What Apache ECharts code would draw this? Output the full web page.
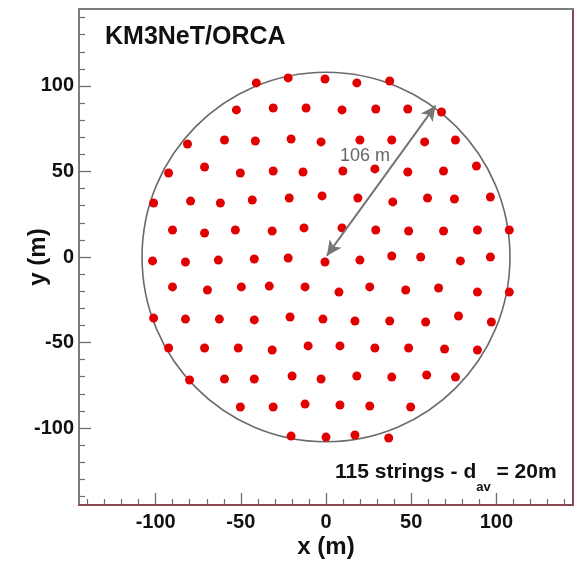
<!DOCTYPE html>
<html><head><meta charset="utf-8">
<script src="https://cdn.jsdelivr.net/npm/echarts@6/dist/echarts.min.js"></script>
<style>html,body{margin:0;padding:0;background:#fff}#c{width:579px;height:561px}</style>
</head><body><div id="c"></div>
<script>
// ---- data ----
const stringX = [
  -40.9, -22.2, -0.6, 18.1, 37.4,
  -52.6, -31.0, -11.7, 9.4, 29.2, 48.0, 67.8,
  -81.3, -59.6, -41.5, -20.5, -2.9, 19.9, 38.6, 57.9, 76.0,
  -92.4, -71.3, -50.3, -31.0, -13.5, 9.9, 28.7, 48.0, 69.0, 88.3,
  -101.2, -79.5, -62.0, -43.3, -21.6, -2.3, 18.7, 39.2, 59.6, 75.4, 96.5,
  -90.1, -71.3, -53.2, -31.6, -12.9, 9.4, 29.2, 48.5, 69.0, 88.9, 107.6,
  -101.8, -82.5, -63.2, -42.1, -22.2, -0.6, 19.9, 38.6, 55.6, 78.9, 96.5,
  -90.1, -69.6, -49.7, -33.3, -12.3, 7.6, 25.7, 46.8, 66.1, 88.9, 107.6,
  -101.2, -82.5, -62.6, -42.1, -21.1, -1.8, 17.0, 37.4, 58.5, 77.8, 97.1,
  -92.4, -71.3, -51.5, -31.6, -10.5, 8.2, 28.7, 48.5, 69.6, 88.9,
  -80.1, -59.6, -42.1, -19.9, -2.9, 18.1, 38.6, 59.1, 76.0,
  -50.3, -31.0, -12.3, 8.2, 25.7, 49.7,
  -20.5, 0, 17.0, 36.8
];
const stringY = [
  101.8, 104.7, 104.1, 101.8, 102.9,
  86.0, 87.1, 87.1, 86.0, 86.5, 86.5, 84.8,
  66.1, 68.4, 67.8, 69.0, 67.3, 68.4, 68.4, 67.3, 68.4,
  49.1, 52.6, 49.1, 50.3, 49.7, 50.3, 51.5, 49.7, 50.3, 53.2,
  31.6, 32.7, 31.6, 33.3, 34.5, 35.7, 34.5, 32.2, 34.5, 33.9, 35.1,
  15.8, 14.0, 15.8, 15.2, 17.0, 17.0, 15.8, 15.2, 15.2, 15.8, 15.8,
  -2.3, -2.9, -1.8, -1.2, -0.6, -2.9, -1.8, 0.6, 0, -2.3, 0,
  -17.5, -19.3, -17.5, -17.0, -17.5, -20.5, -17.5, -19.3, -18.1, -20.5, -20.5,
  -35.7, -36.3, -36.3, -36.8, -35.1, -36.3, -37.4, -37.4, -38.0, -34.5, -38.0,
  -53.2, -53.2, -53.2, -54.4, -52.0, -52.0, -53.2, -53.2, -53.8, -54.4,
  -71.9, -71.3, -71.3, -69.6, -71.3, -69.6, -70.2, -69.0, -70.2,
  -87.7, -87.7, -86.0, -86.5, -87.1, -87.7,
  -104.7, -105.3, -104.1, -105.8
];
const axisMin = -145, axisMax = 145;
const majorTicks = [-100, -50, 0, 50, 100];
const minorTicks = [-140, -130, -120, -110, -90, -80, -70, -60, -40, -30, -20, -10,
                    10, 20, 30, 40, 60, 70, 80, 90, 110, 120, 130, 140];
const circleCenter = [0, 0];
const circleRadius = 108;
const arrowStart = [0.5, 0.8];
const arrowEnd = [64.3, 88.5];
const titleText = 'KM3NeT/ORCA';
const radiusText = '106 m';
const xName = 'x (m)', yName = 'y (m)';

// ---- styles ----
const FONT = '"Liberation Sans", Arial, Helvetica, sans-serif';
const GRAY = '#7d7d7d', MAROON = '#8c4552', TICK = '#6e6e6e';
const labelStyle = {fontFamily: FONT, fontWeight: 'bold', fontSize: 20, color: '#111'};

const points = stringX.map((x, i) => [x, stringY[i]]);

function majorAxis(pos, isX) {
  return {
    type: 'value', position: pos, min: axisMin, max: axisMax,
    axisLine: {show: true, onZero: false, lineStyle: {color: isX ? MAROON : GRAY, width: 2}},
    axisTick: {show: true, inside: true, length: 12, customValues: majorTicks, lineStyle: {color: TICK, width: 1.3}},
    axisLabel: Object.assign({show: true, customValues: majorTicks, margin: isX ? 7 : 5}, labelStyle),
    splitLine: {show: false},
    name: isX ? xName : yName, nameLocation: 'middle', nameGap: isX ? 30 : 29,
    nameMoveOverlap: false,
    nameTextStyle: {fontFamily: FONT, fontWeight: 'bold', fontSize: 24, color: '#111'}
  };
}
function minorAxis(pos) {
  return {
    type: 'value', position: pos, min: axisMin, max: axisMax,
    axisLine: {show: false, onZero: false},
    axisTick: {show: true, inside: true, length: 6, customValues: minorTicks, lineStyle: {color: TICK, width: 1.2}},
    axisLabel: {show: false}, splitLine: {show: false}
  };
}
function frameAxis(pos, color) {
  return {
    type: 'value', position: pos, min: axisMin, max: axisMax,
    axisLine: {show: true, onZero: false, lineStyle: {color: color, width: 2}},
    axisTick: {show: false}, axisLabel: {show: false}, splitLine: {show: false}
  };
}

const chart = echarts.init(document.getElementById('c'), null, {renderer: 'canvas'});
chart.setOption({
  animation: false,
  backgroundColor: '#fff',
  grid: {left: 79, right: 6, top: 9, bottom: 56, containLabel: false, outerBoundsMode: 'none'},
  xAxis: [majorAxis('bottom', true), minorAxis('bottom'), frameAxis('top', GRAY)],
  yAxis: [majorAxis('left', false), minorAxis('left'), frameAxis('right', MAROON)],
  series: [
    {
      type: 'custom', xAxisIndex: 0, yAxisIndex: 0, silent: true, z: 1,
      data: [circleCenter],
      renderItem: function (params, api) {
        const c = api.coord([api.value(0), api.value(1)]);
        const rx = api.size([circleRadius, 0])[0];
        const ry = api.size([0, circleRadius])[1];
        return {type: 'ellipse', shape: {cx: c[0], cy: c[1], rx: rx, ry: ry},
                style: {fill: 'none', stroke: '#6a6a6a', lineWidth: 1.6}};
      }
    },
    {
      type: 'scatter', xAxisIndex: 0, yAxisIndex: 0, z: 3,
      symbol: 'circle', symbolSize: 9,
      itemStyle: {color: '#e00000', opacity: 1},
      data: points,
      markLine: {
        silent: true, symbol: ['arrow', 'arrow'], symbolSize: [11, 15],
        lineStyle: {color: '#757575', width: 2, type: 'solid'},
        label: {show: false},
        emphasis: {disabled: true},
        data: [[{coord: arrowStart}, {coord: arrowEnd}]]
      }
    }
  ],
  graphic: [
    {type: 'text', left: 105, top: 25, z: 10,
     style: {text: titleText, font: 'bold 25px ' + FONT, fill: '#111'}},
    {type: 'text', left: 340, top: 147, z: 10,
     style: {text: radiusText, font: '18px ' + FONT, fill: '#666'}},
    {type: 'text', left: 335, top: 462, z: 10,
     style: {
       text: '{a|115 strings - d}{s|av}{a| = 20m}',
       rich: {
         a: {fontFamily: FONT, fontWeight: 'bold', fontSize: 21, lineHeight: 25, verticalAlign: 'top', fill: '#111'},
         s: {fontFamily: FONT, fontWeight: 'bold', fontSize: 13, lineHeight: 13, padding: [19, 0, 0, 0], verticalAlign: 'top', fill: '#111'}
       }
     }}
  ]
});
</script>
</body></html>
